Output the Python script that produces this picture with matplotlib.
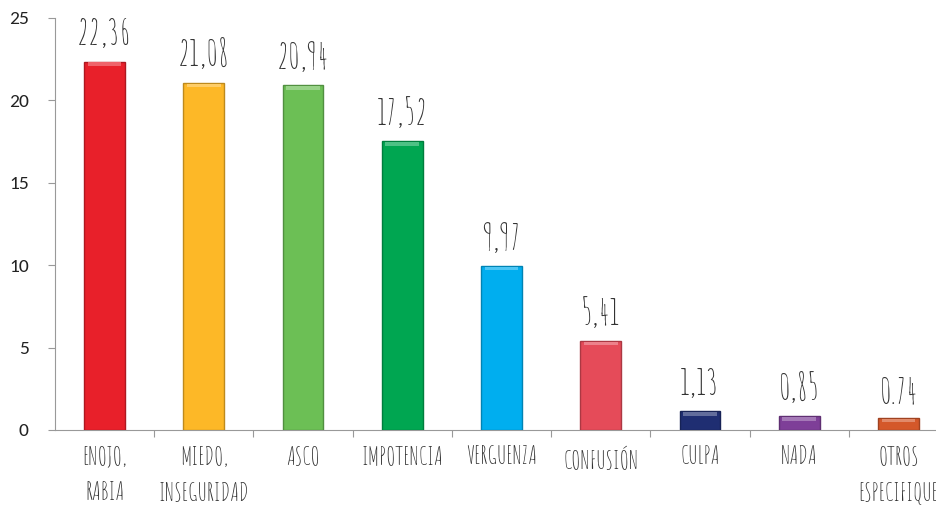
import matplotlib
matplotlib.use('Agg')
import matplotlib.pyplot as plt
import matplotlib.colors as mcolors

categories = ['ENOJO,\nRABIA', 'MIEDO,\nINSEGURIDAD', 'ASCO', 'IMPOTENCIA', 'VERGUENZA',
              'CONFUSIÓN', 'CULPA', 'NADA', 'OTROS\nESPECIFIQUE']
values = [22.36, 21.08, 20.94, 17.52, 9.97, 5.41, 1.13, 0.85, 0.74]
value_labels = ['22,36', '21,08', '20,94', '17,52', '9,97', '5,41', '1,13', '0,85', '0.74']
colors = ['#E8202A', '#FDB827', '#6CBF55', '#00A651', '#00AEEF',
          '#E54B59', '#1F2E72', '#7E3F98', '#D4582A']

hand = ['Amatic SC', 'Pompiere', 'Barlow Condensed', 'DejaVu Sans']
tickfont = ['Carlito', 'Open Sans', 'DejaVu Sans']


def darker(c, f=0.75):
    r, g, b = mcolors.to_rgb(c)
    return (r * f, g * f, b * f)


def main():
    fig = plt.figure(figsize=(9.36, 5.05), dpi=100)
    ax = fig.add_axes([55 / 936, 75 / 505, 893 / 936, 412 / 505])

    x = list(range(len(values)))
    ax.bar(x, values, width=0.41, color=colors,
           edgecolor=[darker(c) for c in colors], linewidth=1.0, zorder=3)
    # light strip on the top of each bar (bevel look)
    for xi, v, c in zip(x, values, colors):
        r, g, b = mcolors.to_rgb(c)
        light = (r + (1 - r) * 0.3, g + (1 - g) * 0.3, b + (1 - b) * 0.3)
        ax.bar(xi, 0.22, bottom=v - 0.28, width=0.34, color=light, linewidth=0, zorder=4)

    for xi, v, s in zip(x, values, value_labels):
        ax.text(xi, v + 0.8, s, ha='center', va='bottom', fontsize=26,
                family=hand, color='#333333')

    ax.set_xlim(-0.5, len(values) - 0.5)
    ax.set_ylim(0, 25)
    ax.set_yticks([0, 5, 10, 15, 20, 25])
    ax.set_xticks([i + 0.5 for i in range(len(values) - 1)])
    ax.set_xticklabels([])
    ax.tick_params(axis='x', direction='out', length=5, color='#999999')
    ax.tick_params(axis='y', direction='out', length=5, color='#999999',
                   labelsize=14, labelcolor='#222222', pad=14)
    for t in ax.get_yticklabels():
        t.set_family(tickfont)

    for xi, lab in zip(x, categories):
        ax.text(xi, -0.95, lab, ha='center', va='top', fontsize=18,
                family=hand, color='#333333', linespacing=1.8)

    for side in ['top', 'right']:
        ax.spines[side].set_visible(False)
    ax.spines['left'].set_color('#999999')
    ax.spines['bottom'].set_color('#999999')

    fig.savefig('out.png', dpi=100)


if __name__ == '__main__':
    main()
